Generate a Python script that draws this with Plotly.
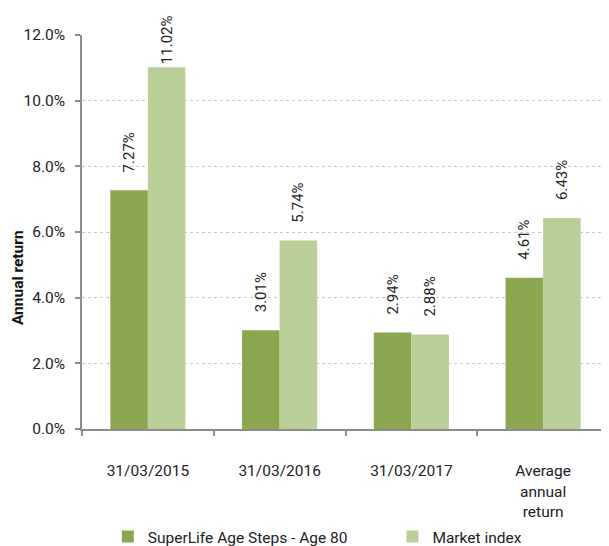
import plotly.graph_objects as go

categories = ["31/03/2015", "31/03/2016", "31/03/2017", "Average<br>annual<br>return"]
superlife = [7.27, 3.01, 2.94, 4.61]
market = [11.02, 5.74, 2.88, 6.43]
series_names = ["SuperLife Age Steps - Age 80", "Market index"]
colors = ["#8AA64F", "#B9CF97"]
y_ticks = [0, 2, 4, 6, 8, 10, 12]
y_ticktext = [f"{v:.1f}%" for v in y_ticks]

FONT = "Roboto"

def labels(vals):
    out = []
    for v in vals:
        pad = "" if v > 10 else "\u00a0" * 4
        out.append(pad + f"{v:.2f}%")
    return out

fig = go.Figure()
for i, (name, vals, col) in enumerate(zip(series_names, [superlife, market], colors)):
    fig.add_trace(go.Bar(
        x=categories, y=vals, name=name,
        marker=dict(color=col, line=dict(width=0)),
        text=labels(vals), textposition="outside", textangle=-90,
        textfont=dict(family=FONT, size=15, color="#222222"),
        constraintext="none", cliponaxis=False,
        legend="legend" if i == 0 else "legend2",
    ))

leg_common = dict(orientation="h", yanchor="middle", y=-0.274, xanchor="left",
                  font=dict(family=FONT, size=15.5, color="#222222"),
                  bgcolor="rgba(0,0,0,0)", borderwidth=0)

fig.update_layout(
    width=609, height=546,
    margin=dict(l=74, r=8, t=27, b=125, autoexpand=False),
    paper_bgcolor="white", plot_bgcolor="white",
    barmode="group", bargap=0.43, bargroupgap=0,
    font=dict(family=FONT, size=15.5, color="#222222"),
    showlegend=True,
    legend=dict(x=0.049, **leg_common),
    legend2=dict(x=0.589, **leg_common),
    annotations=[dict(text="<b>Annual return</b>", textangle=-90,
                      xref="paper", yref="paper", x=0, y=0.383,
                      xshift=-64, xanchor="center", yanchor="middle",
                      showarrow=False, font=dict(family=FONT, size=15.5, color="#111111"))],
)
fig.update_xaxes(
    showline=True, linecolor="#8C8C8C", linewidth=1.5, automargin=False,
    ticks="outside", tickson="boundaries", ticklen=5, tickcolor="#8C8C8C", tickwidth=1.5,
    showgrid=False, ticklabelstandoff=27,
    tickfont=dict(family=FONT, size=15.5, color="#222222"),
)
fig.update_yaxes(
    range=[0, 12], tickvals=y_ticks, ticktext=y_ticktext, automargin=False,
    showline=True, linecolor="#8C8C8C", linewidth=1.5,
    ticks="outside", ticklen=5, tickcolor="#8C8C8C", tickwidth=1.5,
    showgrid=True, gridcolor="#C8C8C8", griddash="dot", gridwidth=1,
    zeroline=False, ticklabelstandoff=7,
    tickfont=dict(family=FONT, size=15.5, color="#222222"),
)
fig.write_html("out.html")
